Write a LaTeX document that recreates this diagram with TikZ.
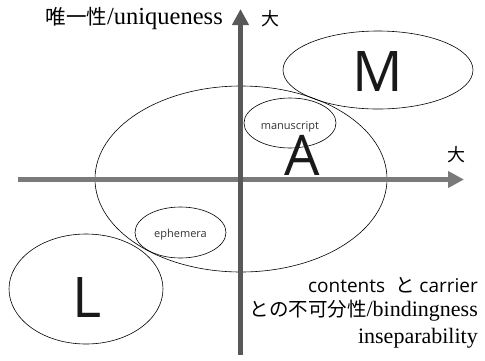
\documentclass[tikz,border=0pt]{standalone}
\usepackage{fontspec}
\setmainfont{Liberation Serif}
\setsansfont{Open Sans}
\newfontfamily\cjk{Noto Sans CJK JP}
\usetikzlibrary{arrows.meta}
\definecolor{axh}{HTML}{7A7A7A}
\definecolor{axv}{HTML}{585858}
\newcommand{\cj}[2][19.5]{{\cjk\fontsize{#1}{#1}\selectfont #2}}
\begin{document}
\begin{tikzpicture}[x=1pt,y=-1pt,
  big/.style={font=\sffamily\fontsize{56}{56}\selectfont,text=black!90,inner sep=0pt},
  small/.style={font=\sffamily\fontsize{11}{11}\selectfont,text=black!80,inner sep=0pt},
  lab/.style={inner sep=0pt,anchor=east},
  axarrow/.style={line width=5pt,-{Triangle[length=16pt,width=16pt]}}
]
\useasboundingbox (0,0) rectangle (485,360);
% ellipses
\draw[line width=0.6pt] (241,179) ellipse [x radius=146, y radius=93];
\draw[line width=0.6pt] (378,70) ellipse [x radius=95, y radius=39];
\draw[line width=0.6pt] (290,123) ellipse [x radius=46, y radius=25];
\draw[line width=0.6pt] (180.5,232.5) ellipse [x radius=45.5, y radius=25.5];
\draw[line width=0.6pt] (86,289) ellipse [x radius=77, y radius=55];
% axes
\coordinate (hs) at (18,179.5);
\coordinate (he) at (464,179.5);
\coordinate (vs) at (240.5,355);
\coordinate (ve) at (240.5,9);
\draw[axh,axarrow] (hs) -- (he);
\draw[axv,axarrow] (vs) -- (ve);
% letters
\node[big] (M) at (378,72) {M};
\node[big] (A) at (302,155) {A};
\node[big] (L) at (87,298) {L};
\node[small] (ms) at (290,127) {manuscript};
\node[small] (eph) at (180.5,235) {ephemera};
% labels
\node[lab,font=\fontsize{24.5}{24.5}\selectfont] (uq) at (223,18) {\cj[20.5]{唯一性}/uniqueness};
\node[inner sep=0pt,font=\cjk\fontsize{18}{18}\selectfont] (dv) at (270,19) {大};
\node[inner sep=0pt,font=\cjk\fontsize{18}{18}\selectfont] (dh) at (456,155) {大};
\node[lab,font=\sffamily\fontsize{19}{19}\selectfont] (c1) at (478,285) {contents\ \ \cj{と} carrier};
\node[lab,font=\fontsize{22}{22}\selectfont] (c2) at (478,311) {\cj{との不可分性}/bindingness};
\node[lab,font=\fontsize{22}{22}\selectfont] (c3) at (478,338) {inseparability};
\end{tikzpicture}
\end{document}
